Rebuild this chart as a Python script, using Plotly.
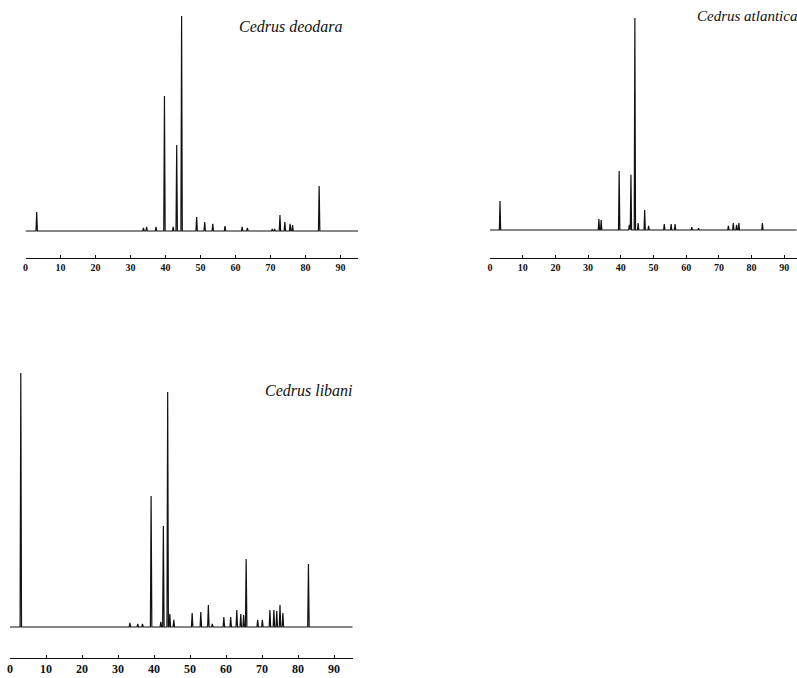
import plotly.graph_objects as go

W, H = 797, 678

# Retention times (min) and relative peak heights (% of largest peak in each run)
deodara_rt = [3.2, 33.7, 34.6, 37.3, 39.7, 42.2, 43.2, 44.6, 48.9, 51.2, 53.5, 57.0,
              61.9, 63.4, 70.5, 71.2, 72.7, 74.1, 75.6, 76.3, 83.9]
deodara_h = [8.8, 1.4, 1.9, 1.9, 62.8, 1.9, 40.0, 100.0, 6.5, 4.2, 3.3, 2.3,
             1.9, 1.4, 1.0, 1.0, 7.4, 4.2, 3.3, 2.8, 20.9]

atlantica_rt = [3.06, 33.3, 34.0, 39.5, 42.6, 43.1, 44.3, 45.3, 47.3, 48.5, 53.3, 55.4,
                56.6, 61.7, 63.8, 72.9, 74.4, 75.4, 76.1, 83.3]
atlantica_h = [13.7, 5.2, 4.7, 27.8, 2.4, 26.0, 100.0, 3.3, 9.4, 1.9, 2.8, 2.8,
               2.8, 1.4, 0.9, 1.9, 3.3, 2.4, 3.3, 3.3]

libani_rt = [3.0, 33.3, 35.5, 36.8, 39.2, 41.9, 42.6, 43.8, 44.4, 45.5, 50.6, 53.0,
             55.1, 56.2, 59.4, 61.3, 63.0, 64.1, 64.9, 65.6, 68.8, 70.1, 72.2, 73.3,
             74.1, 75.0, 75.8, 82.9]
libani_h = [100.0, 1.6, 1.2, 1.2, 51.6, 2.0, 39.8, 92.5, 5.1, 2.8, 5.5, 5.9,
            8.7, 1.2, 3.9, 3.9, 6.7, 5.1, 4.7, 26.8, 2.8, 2.8, 6.7, 6.7,
            6.3, 8.7, 5.5, 24.8]

tick_vals = [0, 10, 20, 30, 40, 50, 60, 70, 80, 90]
tick_text = ["0", "10", "20", "30", "40", "50", "60", "70", "80", "90"]
titles = ["Cedrus deodara", "Cedrus atlantica", "Cedrus libani"]


def spikes(rts, hs, end, hw=0.2):
    xs, ys = [0.0], [0.0]
    for rt, h in zip(rts, hs):
        xs += [rt - hw, rt, rt + hw]
        ys += [0.0, h, 0.0]
    xs.append(end)
    ys.append(0.0)
    return xs, ys


def xdom(x0, ppu, r):
    return [(x0 + r[0] * ppu) / W, min(1.0, (x0 + r[1] * ppu) / W)]


def ydom(yb, ppy, r):
    return [1 - (yb - r[0] * ppy) / H, min(1.0, 1 - (yb - r[1] * ppy) / H)]


panels = [
    dict(rt=deodara_rt, h=deodara_h, x0=25.5, ppu=3.5, xr=[0, 95.0],
         yb=231, ppy=2.15, yr=[-12.6, 101], fs=10, title=(237, 27, 16)),
    dict(rt=atlantica_rt, h=atlantica_h, x0=490, ppu=3.27, xr=[0, 93.8],
         yb=230, ppy=2.12, yr=[-13.2, 101], fs=10, title=(695, 16, 15)),
    dict(rt=libani_rt, h=libani_h, x0=10, ppu=3.6, xr=[0, 95.2],
         yb=627, ppy=2.54, yr=[-12.2, 101], fs=12, title=(263, 390, 16)),
]

fig = go.Figure()
layout = dict(width=W, height=H,
              margin=dict(l=0, r=0, t=0, b=0, pad=0, autoexpand=False),
              paper_bgcolor="white", plot_bgcolor="white", showlegend=False,
              annotations=[])

for i, p in enumerate(panels, start=1):
    xs, ys = spikes(p["rt"], p["h"], p["xr"][1])
    sfx = "" if i == 1 else str(i)
    fig.add_trace(go.Scatter(x=xs, y=ys, mode="lines",
                             line=dict(color="#111111", width=1.2),
                             xaxis="x" + sfx, yaxis="y" + sfx, hoverinfo="skip"))
    layout["xaxis" + sfx] = dict(
        domain=xdom(p["x0"], p["ppu"], p["xr"]), range=p["xr"], anchor="y" + sfx,
        showline=True, linecolor="#111111", linewidth=1.2, ticks="inside", ticklen=3,
        tickcolor="#111111", tickvals=tick_vals, ticktext=tick_text,
        showgrid=False, zeroline=False, automargin=False,
        tickfont=dict(family="Liberation Serif", size=p["fs"], color="#111111",
                      weight="bold"))
    layout["yaxis" + sfx] = dict(
        domain=ydom(p["yb"], p["ppy"], p["yr"]), range=p["yr"], anchor="x" + sfx,
        visible=False)
    tx, ty, tfs = p["title"]
    layout["annotations"].append(dict(
        text="<i>" + titles[i - 1] + "</i>", xref="paper", yref="paper",
        x=tx / W, y=1 - ty / H, xanchor="left", yanchor="middle", showarrow=False,
        font=dict(family="Liberation Serif", size=tfs, color="#111111")))

fig.update_layout(**layout)
fig.write_html("out.html",
               config={"displayModeBar": False},
               post_script="document.body.style.margin='0';"
                           "document.body.style.padding='0';"
                           "document.body.style.overflow='hidden';")
